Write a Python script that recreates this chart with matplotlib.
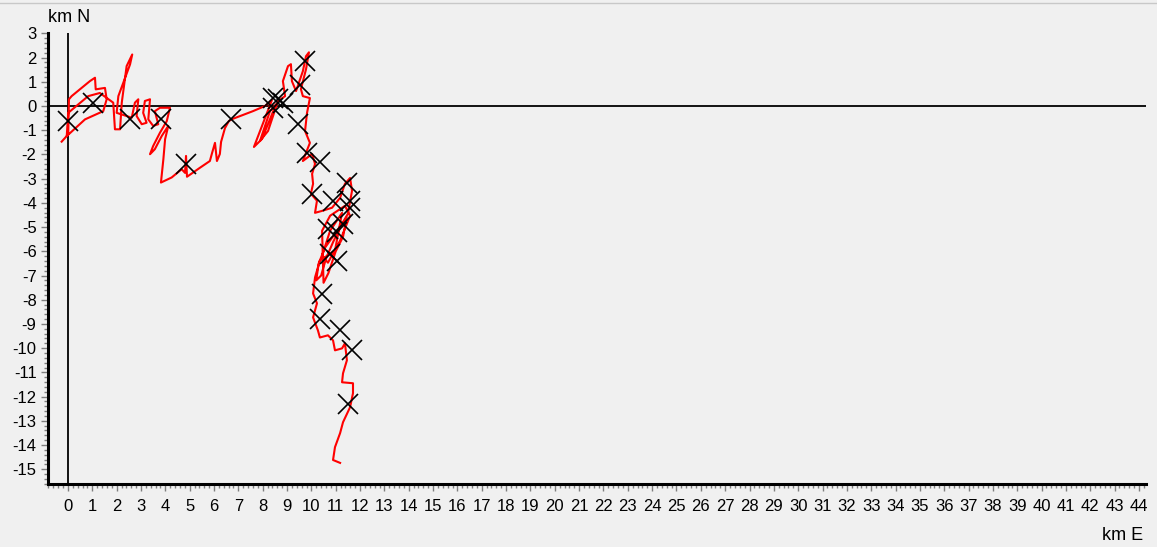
import matplotlib
matplotlib.use("Agg")
import matplotlib.pyplot as plt
from matplotlib.lines import Line2D
from matplotlib.ticker import MultipleLocator

plt.rcParams["font.family"] = ["Liberation Sans", "DejaVu Sans"]
plt.rcParams["axes.unicode_minus"] = False

# трек, км (восток, север)
track_e = [-0.26, 0.01, 0.04, 0.15, 0.49, 0.90, 1.11, 1.14, 1.52, 1.59, 1.45, 0.70,
           -0.05, 0.01, 0.83, 1.31, 1.86, 1.93, 2.14, 2.21, 2.41, 2.64, 2.55, 2.07,
           2.00, 2.62, 2.75, 2.89, 2.82, 3.03, 3.23, 3.09, 3.16, 3.37, 3.30, 3.50,
           3.71, 3.57, 3.78, 4.19, 4.06, 3.78, 3.50, 3.37, 3.57, 3.85, 4.12, 3.99,
           3.92, 3.82, 4.26, 4.67, 4.81, 4.85, 4.89, 5.42, 5.83, 5.92, 6.04, 6.12,
           6.24, 6.29, 6.45, 6.61, 6.74, 7.60, 8.09, 8.38, 7.97, 7.64, 7.97, 8.30,
           8.55, 8.30, 7.89, 8.22, 8.63, 8.92, 8.83, 9.04, 9.16, 9.20, 9.37, 9.65,
           9.78, 9.90, 9.78, 9.57, 9.65, 9.94, 9.82, 9.74, 9.94, 9.78, 9.65, 10.03,
           10.15, 10.03, 10.07, 9.98, 10.23, 10.15, 10.44, 10.85, 11.18, 11.38,
           11.59, 11.67, 11.50, 11.26, 10.85, 10.56, 10.30, 10.20, 10.40, 10.60,
           10.90, 11.20, 11.45, 11.30, 11.00, 10.70, 10.50, 10.44, 10.77, 11.38,
           11.59, 11.18, 10.68, 10.44, 10.77, 11.26, 10.97, 10.35, 10.15, 10.07,
           10.23, 10.07, 10.27, 10.35, 10.68, 10.89, 10.97, 11.26, 11.38, 11.46,
           11.30, 11.26, 11.71, 11.71, 11.59, 11.30, 11.18, 10.97, 10.89, 11.18]
track_n = [-1.47, -1.17, 0.28, 0.41, 0.69, 1.03, 1.17, 0.69, 0.75, 0.28, -0.21, -0.55,
           -1.24, -0.28, 0.41, 0.54, 0.14, -0.96, -0.96, 0.14, 1.65, 2.13, 1.72, 0.41,
           -0.28, -0.48, 0.14, 0.28, -0.41, -0.75, -0.69, -0.28, 0.21, 0.28, -0.55,
           -0.82, -0.75, -0.21, -0.07, -0.07, -0.62, -1.10, -1.65, -1.99, -1.78,
           -1.24, -0.82, -1.37, -2.19, -3.16, -2.95, -2.61, -2.76, -2.06, -2.92,
           -2.55, -2.27, -1.94, -1.52, -2.27, -1.98, -1.48, -0.91, -0.62, -0.54,
           -0.21, 0.00, 0.25, -0.82, -1.69, -1.36, -0.54, 0.08, -0.21, -1.44, -1.03,
           0.21, 0.41, 1.03, 1.65, 1.73, 1.03, 0.62, 1.44, 2.06, 2.22, 1.52, 0.70,
           0.41, 0.33, -0.29, -1.03, -1.52, -1.94, -2.27, -1.98, -2.39, -2.80, -3.21,
           -3.62, -3.91, -4.41, -4.33, -4.20, -3.79, -3.21, -2.97, -3.50, -4.45,
           -4.86, -5.44, -5.85, -6.50, -7.20, -7.00, -6.30, -5.60, -5.00, -4.60,
           -5.40, -6.00, -6.90, -7.30, -5.15, -4.53, -4.12, -4.53, -5.56, -6.47,
           -6.18, -5.15, -4.41, -5.97, -6.38, -7.08, -7.74, -8.15, -8.73, -9.27,
           -9.56, -9.47, -9.68, -10.09, -10.01, -9.80, -10.50, -11.04, -11.41,
           -11.45, -11.86, -12.44, -13.06, -13.51, -14.09, -14.62, -14.74]

# отметки (крестики), км
mark_e = [0.00, 1.04, 2.55, 3.82, 4.85, 6.70, 8.42, 8.63, 8.42, 8.83, 9.74, 9.53,
          9.46, 9.81, 10.35, 11.45, 10.01, 10.90, 11.59, 11.59, 10.69, 11.31, 11.04,
          10.76, 11.04, 10.42, 10.35, 11.18, 11.66, 11.52]
mark_n = [-0.62, 0.14, -0.55, -0.52, -2.40, -0.54, 0.33, 0.29, -0.08, 0.12, 1.85,
          0.89, -0.75, -1.92, -2.33, -3.16, -3.64, -3.91, -3.91, -4.20, -5.08, -4.87,
          -5.22, -6.11, -6.38, -7.76, -8.79, -9.27, -10.09, -12.29]

BG = "#f0f0f0"
TICK = "#7f7f7f"

fig = plt.figure(figsize=(11.57, 5.47), dpi=100, facecolor=BG)
ax = fig.add_axes([0.0412, 0.1157, 0.9493, 0.8245])
ax.set_facecolor(BG)

ax.axhline(0, color="black", lw=1.3, zorder=1)
ax.axvline(0, color="black", lw=1.3, zorder=1)
ax.plot(track_e, track_n, color="red", lw=1.5, zorder=2)
ax.plot(mark_e, mark_n, ls="none", marker="x", ms=15, mew=1.2, color="black", zorder=3)

ax.set_xlim(-0.834, 44.29)
ax.set_ylim(-15.6, 3.03)

for side in ("top", "right"):
    ax.spines[side].set_visible(False)
for side in ("left", "bottom"):
    ax.spines[side].set_linewidth(2.2)
    ax.spines[side].set_color("black")

ax.xaxis.set_major_locator(MultipleLocator(1))
ax.xaxis.set_minor_locator(MultipleLocator(0.2))
ax.yaxis.set_major_locator(MultipleLocator(1))
ax.yaxis.set_minor_locator(MultipleLocator(0.2))
ax.tick_params(which="major", length=5, width=1, color=TICK, labelsize=12,
               labelcolor="black")
ax.tick_params(which="minor", length=3, width=1, color=TICK)
ax.tick_params(axis="x", which="major", pad=6)
ax.tick_params(axis="y", which="major", pad=3)
ax.set_xticks(range(0, 45))
ax.set_yticks(range(-15, 4))

fig.text(48 / 1157, 1 - 17 / 547, "km N", fontsize=13, ha="left", va="center")
fig.text(1143 / 1157, 1 - 536 / 547, "km E", fontsize=13, ha="right", va="center")
fig.add_artist(Line2D([0, 1], [1 - 3 / 547] * 2, color="#c8c8c8", lw=1))

fig.savefig("out.png", dpi=100, facecolor=BG)
